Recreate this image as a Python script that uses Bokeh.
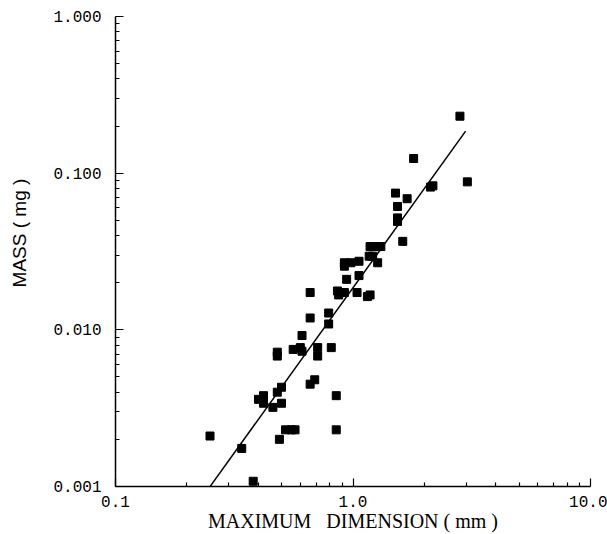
from bokeh.plotting import figure
from bokeh.models import Range1d, FixedTicker, ColumnDataSource
from bokeh.embed import file_html
from bokeh.resources import INLINE

# Data (maximum dimension in mm, mass in mg)
dim_mm = [0.25, 0.34, 0.38, 0.40, 0.42, 0.42, 0.46, 0.48, 0.50, 0.50,
          0.49, 0.52, 0.55, 0.57, 0.48, 0.48, 0.66, 0.69, 0.56, 0.60,
          0.61, 0.61, 0.71, 0.71, 0.81, 0.66, 0.79, 0.79, 0.85, 0.85,
          0.66, 0.86, 0.87, 0.92, 0.94, 1.04, 1.06, 1.15, 1.18, 0.92,
          0.98, 1.06, 0.92, 1.17, 1.21, 1.27, 1.18, 1.22, 1.27, 1.31,
          1.54, 1.54, 1.54, 1.51, 1.69, 1.62, 2.12, 2.17, 1.80, 2.82,
          3.03]
mass_mg = [0.0021, 0.00175, 0.00108, 0.0036, 0.0038, 0.0034, 0.0032, 0.0040, 0.0043, 0.0034,
           0.0020, 0.0023, 0.0023, 0.0023, 0.0068, 0.0072, 0.0045, 0.0048, 0.0075, 0.0077,
           0.0073, 0.0092, 0.0077, 0.0068, 0.0077, 0.0119, 0.0128, 0.0109, 0.0038, 0.0023,
           0.0173, 0.0177, 0.0167, 0.0173, 0.021, 0.0173, 0.0222, 0.0163, 0.0167, 0.0268,
           0.0268, 0.0274, 0.0255, 0.0295, 0.0295, 0.0268, 0.034, 0.034, 0.034, 0.034,
           0.0518, 0.0492, 0.0613, 0.0746, 0.0687, 0.0367, 0.0815, 0.083, 0.124, 0.231,
           0.088]

# Power-law fit  mass = fit_coef * dim ** fit_exp
fit_coef = 0.01856
fit_exp = 2.108
fit_x = [0.25, 2.98]
fit_y = [fit_coef * x ** fit_exp for x in fit_x]

x_ticks = [0.1, 1.0, 10.0]
x_tick_labels = ["0.1", "1.0", "10.0"]
y_ticks = [0.001, 0.01, 0.1, 1.0]
y_tick_labels = ["0.001", "0.010", "0.100", "1.000"]

def minor(decades):
    out = []
    for d in decades:
        for k in range(2, 10):
            out.append(round(k * 10.0 ** d, 6))
    return out

p = figure(width=607, height=534, x_axis_type="log", y_axis_type="log",
           x_range=Range1d(0.1, 10.0), y_range=Range1d(0.001, 1.0),
           output_backend="svg", toolbar_location=None,
           min_border_left=115, min_border_right=17,
           min_border_top=16, min_border_bottom=46)
p.outline_line_color = None
p.xgrid.visible = False
p.ygrid.visible = False
p.background_fill_color = "white"
p.border_fill_color = "white"

p.xaxis.ticker = FixedTicker(ticks=x_ticks, minor_ticks=minor([-1, 0]))
p.yaxis.ticker = FixedTicker(ticks=y_ticks, minor_ticks=minor([-3, -2, -1]))
p.xaxis.major_label_overrides = {t: l for t, l in zip(x_ticks, x_tick_labels)}
p.yaxis.major_label_overrides = {t: l for t, l in zip(y_ticks, y_tick_labels)}

for ax in (p.xaxis, p.yaxis):
    ax.axis_line_width = 1.5
    ax.axis_line_color = "black"
    ax.major_tick_in = 8
    ax.major_tick_out = 0
    ax.minor_tick_in = 4
    ax.minor_tick_out = 0
    ax.major_tick_line_width = 1.2
    ax.minor_tick_line_width = 1.2
    ax.major_tick_line_color = "black"
    ax.minor_tick_line_color = "black"
    ax.major_label_text_font = "Liberation Mono"
    ax.major_label_text_font_size = "16px"
    ax.major_label_text_color = "black"
    ax.axis_label_text_color = "black"
    ax.axis_label_text_font_style = "normal"

p.xaxis.major_label_standoff = 9
p.yaxis.major_label_standoff = 14

p.xaxis.axis_label = "MAXIMUM\u00a0\u00a0\u00a0DIMENSION ( mm )"
p.xaxis.axis_label_text_font = "Liberation Serif"
p.xaxis.axis_label_text_font_size = "20px"
p.xaxis.axis_label_standoff = 0

p.yaxis.axis_label = "\u00a0" * 7 + "MASS ( mg )"
p.yaxis.axis_label_text_font = "Liberation Sans"
p.yaxis.axis_label_text_font_size = "19px"
p.yaxis.axis_label_standoff = 20

src = ColumnDataSource(dict(x=dim_mm, y=mass_mg))
p.scatter("x", "y", source=src, marker="square", size=8,
          fill_color="black", line_color="black")
p.line(fit_x, fit_y, line_color="black", line_width=1.5)

open("out.html", "w").write(file_html(p, INLINE))
